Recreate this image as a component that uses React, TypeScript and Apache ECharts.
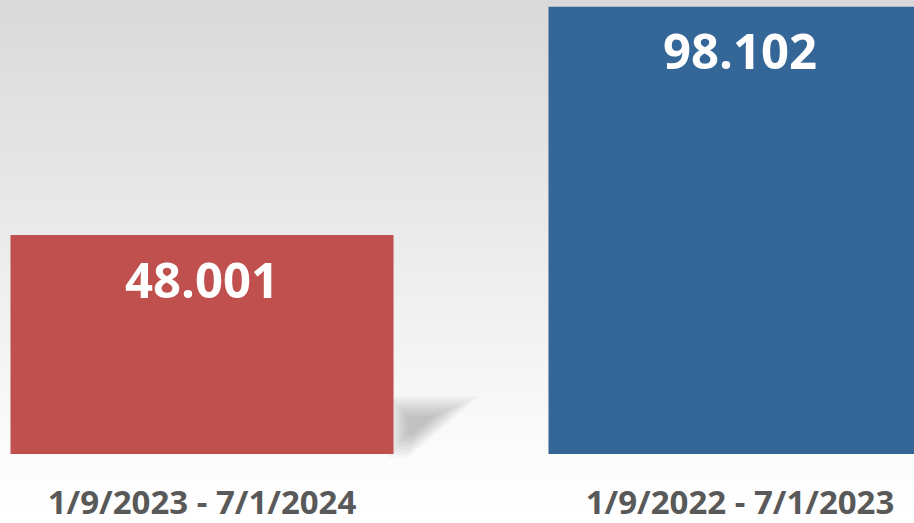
import React, { useEffect, useRef } from "react";
import * as echarts from "echarts";

const categories = ["1/9/2023 - 7/1/2024", "1/9/2022 - 7/1/2023"];
const values = [48.001, 98.102];
const barColors = ["#C0504D", "#346798"];
const BAR_RATIO = 0.712;

export default function App() {
  const ref = useRef<HTMLDivElement>(null);
  useEffect(() => {
    if (!ref.current) return;
    const chart = echarts.init(ref.current, null, { renderer: "svg" });
    chart.setOption({
      animation: false,
      backgroundColor: new echarts.graphic.LinearGradient(0, 0, 0, 1, [
        { offset: 0, color: "#d9d9d9" },
        { offset: 0.85, color: "#fbfbfb" },
        { offset: 1, color: "#ffffff" },
      ]),
      grid: { left: -67, right: -95, top: -2, bottom: 69, containLabel: false, outerBoundsMode: "none" },
      xAxis: {
        type: "category",
        data: categories,
        axisLine: { show: false },
        axisTick: { show: false },
        splitLine: { show: false },
        axisLabel: {
          margin: 31,
          fontSize: 33,
          fontWeight: "bold",
          color: "#595959",
          fontFamily: "Open Sans",
          interval: 0,
        },
      },
      yAxis: { type: "value", min: 0, max: 100, show: false, splitLine: { show: false } },
      series: [
        {
          type: "custom",
          z: 1,
          silent: true,
          data: values.map((v, i) => [i, v]),
          encode: { x: 0, y: 1 },
          renderItem: (params: any, api: any) => {
            const p = api.coord([api.value(0), 0]);
            const size = api.size([1, 0]);
            const w = size[0] * BAR_RATIO;
            const right = p[0] + w / 2;
            const bottom = p[1];
            const base = [
              [right - 6, bottom + 4],
              [right - 6, bottom - 58],
              [right + 86, bottom - 58],
              [right + 14, bottom + 4],
            ];
            const cx = right + 22;
            const cy = bottom - 30;
            const children = [];
            for (let k = 0; k < 10; k++) {
              const s = 1 - k * 0.08;
              children.push({
                type: "polygon",
                shape: { points: base.map(([x, y]) => [cx + (x - cx) * s, cy + (y - cy) * s]) },
                style: { fill: "rgba(0,0,0,0.025)" },
              });
            }
            return { type: "group", children };
          },
        },
        {
          type: "bar",
          z: 2,
          barWidth: BAR_RATIO * 100 + "%",
          data: values.map((v, i) => ({ value: v, itemStyle: { color: barColors[i] } })),
          label: {
            show: true,
            position: "insideTop",
            distance: 19,
            fontSize: 49,
            fontWeight: "bold",
            color: "#ffffff",
            fontFamily: "Open Sans",
            formatter: (p: any) => p.value.toFixed(3),
          },
        },
      ],
    });
    return () => chart.dispose();
  }, []);
  return <div ref={ref} style={{ position: "fixed", left: 0, top: 0, width: 914, height: 523 }} />;
}
